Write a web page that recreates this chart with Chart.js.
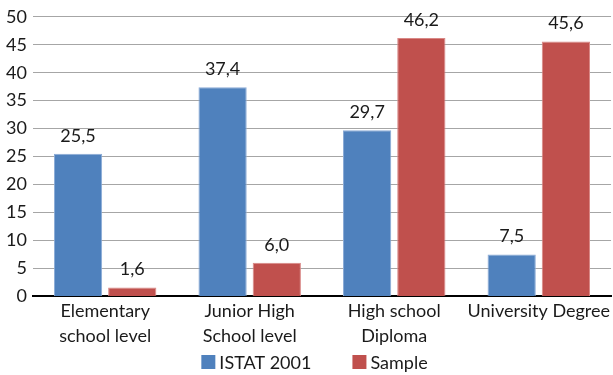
<!DOCTYPE html>
<html>
<head>
<meta charset="utf-8">
<script src="https://cdn.jsdelivr.net/npm/chart.js@4/dist/chart.umd.min.js"></script>
<style>
  html, body { margin: 0; padding: 0; background: #fff; }
  #wrap { width: 613px; height: 375px; }
</style>
</head>
<body>
<div id="wrap"><canvas id="c" width="613" height="375"></canvas></div>
<script>
const categories = [
  ["Elementary", "school level"],
  ["Junior High", "School level"],
  ["High school", "Diploma"],
  "University Degree"
];
const istat2001 = [25.5, 37.4, 29.7, 7.5];
const sample = [1.6, 6.0, 46.2, 45.6];
const seriesNames = ["ISTAT 2001", "Sample"];

const fontFamily = "Lato, 'Open Sans', sans-serif";
const textColor = '#1a1a1a';
const fills = ['#4F81BD', '#C0504D'];
const edges = ['#8AAAD6', '#D98886'];

// Writes each bar's value above it, with a decimal comma
const valueLabels = {
  id: 'valueLabels',
  afterDatasetsDraw(chart) {
    const ctx = chart.ctx;
    ctx.save();
    ctx.font = '18px ' + fontFamily;
    ctx.fillStyle = textColor;
    ctx.textAlign = 'center';
    ctx.textBaseline = 'bottom';
    chart.data.datasets.forEach((ds, i) => {
      chart.getDatasetMeta(i).data.forEach((bar, j) => {
        const txt = ds.data[j].toFixed(1).replace('.', ',');
        ctx.fillText(txt, bar.x, bar.y - 9);
      });
    });
    ctx.restore();
  }
};

// Bottom legend: square swatch + series name, with a wide gap between entries
const bottomLegend = {
  id: 'bottomLegend',
  afterDraw(chart) {
    const ctx = chart.ctx;
    const box = 14, gapText = 4, gapItem = 41;
    ctx.save();
    ctx.font = '18px ' + fontFamily;
    ctx.textBaseline = 'middle';
    ctx.textAlign = 'left';
    const items = chart.data.datasets.map(ds => ({
      text: ds.label, color: ds.backgroundColor,
      w: box + gapText + ctx.measureText(ds.label).width
    }));
    const total = items.reduce((s, it) => s + it.w, 0) + gapItem * (items.length - 1);
    let x = (chart.width - total) / 2 + 8;
    const y = chart.height - 13;
    items.forEach(it => {
      ctx.fillStyle = it.color;
      ctx.fillRect(x, y - box / 2, box, box);
      ctx.fillStyle = textColor;
      ctx.fillText(it.text, x + box + gapText, y + 1);
      x += it.w + gapItem;
    });
    ctx.restore();
  }
};

new Chart(document.getElementById('c'), {
  type: 'bar',
  data: {
    labels: categories,
    datasets: [
      {
        label: seriesNames[0],
        data: istat2001,
        backgroundColor: fills[0],
        borderColor: edges[0],
        borderWidth: 1,
        categoryPercentage: 0.75,
        barPercentage: 0.89
      },
      {
        label: seriesNames[1],
        data: sample,
        backgroundColor: fills[1],
        borderColor: edges[1],
        borderWidth: 1,
        categoryPercentage: 0.75,
        barPercentage: 0.89
      }
    ]
  },
  options: {
    responsive: false,
    animation: false,
    layout: { padding: { top: 2, right: 0, left: 0, bottom: 24 } },
    plugins: {
      legend: { display: false },
      tooltip: { enabled: false }
    },
    scales: {
      x: {
        grid: { display: false, drawTicks: false },
        border: { display: true, color: '#000', width: 2 },
        ticks: {
          font: { family: fontFamily, size: 18, lineHeight: 1.35 },
          color: textColor,
          maxRotation: 0,
          autoSkip: false,
          padding: 3
        }
      },
      y: {
        min: 0,
        max: 50,
        ticks: {
          stepSize: 5,
          font: { family: fontFamily, size: 18 },
          color: textColor,
          padding: 6
        },
        grid: { color: '#A6A6A6', lineWidth: 1, drawTicks: false },
        border: { display: false }
      }
    }
  },
  plugins: [valueLabels, bottomLegend]
});
</script>
</body>
</html>
